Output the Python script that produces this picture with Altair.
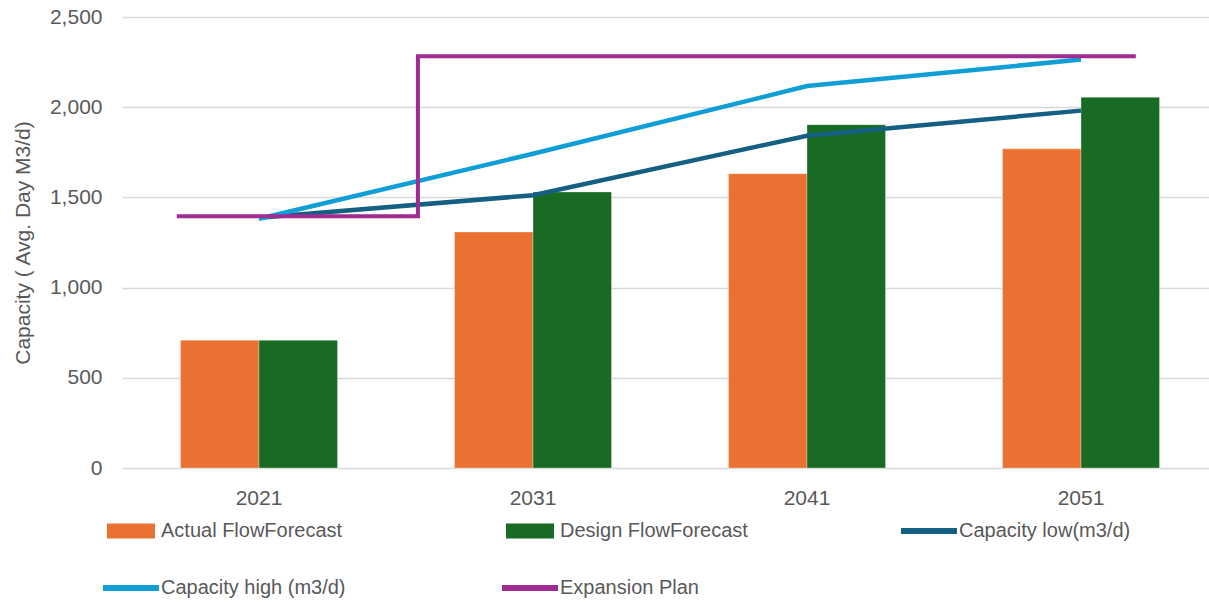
import altair as alt
import pandas as pd

# ---- data ----
years = ["2021", "2031", "2041", "2051"]
year_num = [2021, 2031, 2041, 2051]
actual_flow = [708, 1308, 1631, 1769]
design_flow = [708, 1530, 1903, 2055]
capacity_low = [1387, 1512, 1842, 1981]
capacity_high = [1382, 1742, 2117, 2264]
expansion_x = [2018.0, 2026.8, 2026.8, 2053.0]
expansion_y = [1395, 1395, 2283, 2283]

series_names = [
    "Actual FlowForecast",
    "Design FlowForecast",
    "Capacity low(m3/d)",
    "Capacity high (m3/d)",
    "Expansion Plan",
]
series_colors = ["#E97132", "#196B24", "#156082", "#0F9ED5", "#A02B93"]

# ---- tables ----
bars_df = pd.DataFrame(
    {
        "year": years * 2,
        "series": [series_names[0]] * 4 + [series_names[1]] * 4,
        "value": actual_flow + design_flow,
    }
)
cap_df = pd.DataFrame(
    {
        "x": year_num * 2,
        "series": [series_names[2]] * 4 + [series_names[3]] * 4,
        "value": capacity_low + capacity_high,
        "order": list(range(4)) * 2,
    }
)
exp_df = pd.DataFrame(
    {
        "x": expansion_x,
        "series": [series_names[4]] * 4,
        "value": expansion_y,
        "order": list(range(4)),
    }
)
# legend carrier points (hidden behind the first bar pair)
legend_df = pd.DataFrame(
    {"x": [year_num[0]] * 5, "series": series_names, "value": [300] * 5}
)

FONT = "Liberation Sans, Arial, sans-serif"
GREY = "#595959"
X_RANGE = [0, 1096]

color_scale = alt.Scale(domain=series_names, range=series_colors)
y_enc = alt.Y(
    "value:Q",
    scale=alt.Scale(domain=[0, 2500], nice=False),
    axis=alt.Axis(
        values=[0, 500, 1000, 1500, 2000, 2500],
        format=",.0f",
        labelFontSize=21,
        labelColor=GREY,
        labelFont=FONT,
        labelPadding=20,
        grid=True,
        gridColor="#d9d9d9",
        gridWidth=1.3,
        domain=False,
        ticks=False,
        title="Capacity ( Avg. Day M3/d)",
        titleFont=FONT,
        titleFontSize=21,
        titleFontWeight="normal",
        titleColor=GREY,
        titlePadding=16,
    ),
)
xq = alt.X(
    "x:Q",
    scale=alt.Scale(domain=[2016, 2056], range=X_RANGE, nice=False, zero=False),
    axis=None,
)

RECT = "M-0.857,-0.27H0.857V0.27H-0.857Z"
LINE = "M-1,-0.105H1V0.105H-1Z"
legend = alt.Legend(
    title=None,
    orient="none",
    direction="horizontal",
    legendX=-19,
    legendY=486,
    columns=3,
    gridAlign="all",
    columnPadding=153,
    rowPadding=19,
    symbolSize=3136,
    symbolOpacity=1,
    symbolStrokeWidth=0,
    labelFont=FONT,
    labelFontSize=20,
    labelColor=GREY,
    labelOffset=2,
    labelLimit=400,
)
legend_layer = (
    alt.Chart(legend_df)
    .mark_point(filled=True, opacity=1, size=3136)
    .encode(
        x=xq,
        y=alt.Y("value:Q"),
        color=alt.Color("series:N", scale=color_scale, legend=legend),
        shape=alt.Shape(
            "series:N",
            scale=alt.Scale(domain=series_names, range=[RECT, RECT, LINE, LINE, LINE]),
            legend=legend,
        ),
    )
)

bars = (
    alt.Chart(bars_df)
    .mark_bar(stroke="white", strokeWidth=0.5, strokeOpacity=0.6)
    .encode(
        x=alt.X(
            "year:N",
            sort=years,
            scale=alt.Scale(domain=years, range=X_RANGE, paddingInner=0, paddingOuter=0),
            axis=alt.Axis(
                title=None,
                labelAngle=0,
                labelFontSize=21,
                labelColor=GREY,
                labelFont=FONT,
                labelPadding=19,
                domain=False,
                ticks=False,
                grid=False,
            ),
        ),
        xOffset=alt.XOffset(
            "series:N",
            sort=series_names[:2],
            scale=alt.Scale(domain=series_names[:2], paddingInner=0, paddingOuter=0.745),
        ),
        y=y_enc,
        color=alt.Color("series:N", scale=color_scale, legend=None),
    )
)

cap_lines = (
    alt.Chart(cap_df)
    .mark_line(strokeWidth=4.5)
    .encode(
        x=xq,
        y=alt.Y("value:Q"),
        color=alt.Color("series:N", scale=color_scale, legend=None),
        detail="series:N",
        order="order:Q",
    )
)

exp_line = (
    alt.Chart(exp_df)
    .mark_line(strokeWidth=4, strokeJoin="miter")
    .encode(
        x=xq,
        y=alt.Y("value:Q"),
        color=alt.Color("series:N", scale=color_scale, legend=None),
        order="order:Q",
    )
)

chart = (
    alt.layer(legend_layer, bars, cap_lines, exp_line)
    .resolve_scale(x="independent")
    .properties(
        width=1087,
        height=451,
        autosize=alt.AutoSizeParams(type="none"),
        padding={"left": 122, "top": 17, "right": 0, "bottom": 134},
        background="white",
    )
    .configure_view(stroke=None)
)

chart.save("out.html", embed_options={"renderer": "svg", "actions": False})
